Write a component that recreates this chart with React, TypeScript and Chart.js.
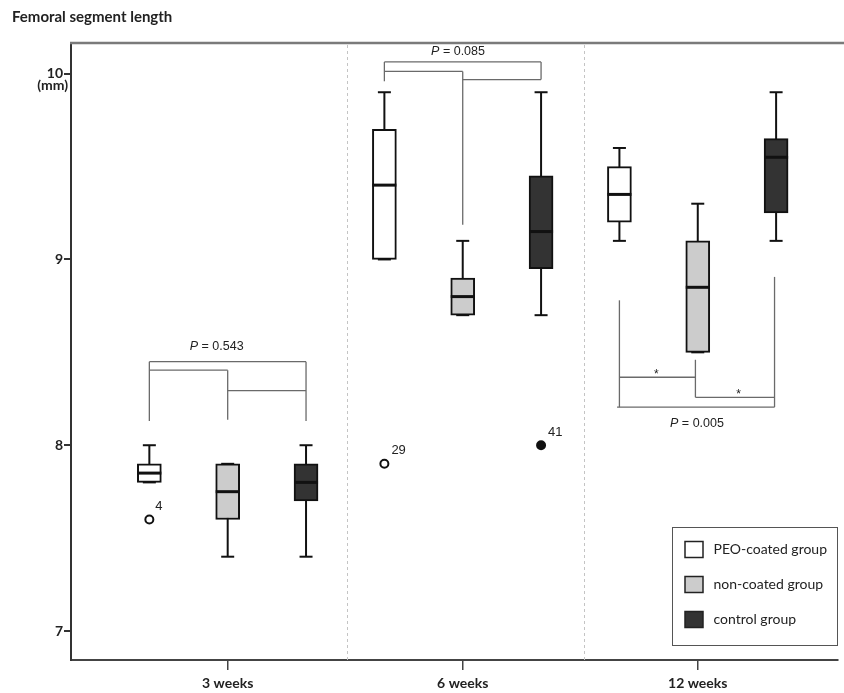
import React, { useEffect, useRef } from 'react';
import { Chart, registerables } from 'chart.js';

Chart.register(...registerables);

// ---------- data ----------
const categories = ['3 weeks', '6 weeks', '12 weeks'];
const groupNames = ['PEO-coated group', 'non-coated group', 'control group'];
const groupFills = ['#ffffff', '#cccccc', '#333333'];

// per group, per category (3w, 6w, 12w)
const peoMin = [7.8, 9.0, 9.1];
const peoQ1 = [7.8, 9.0, 9.2];
const peoMed = [7.85, 9.4, 9.35];
const peoQ3 = [7.9, 9.7, 9.5];
const peoMax = [8.0, 9.9, 9.6];

const nonMin = [7.4, 8.7, 8.5];
const nonQ1 = [7.6, 8.7, 8.5];
const nonMed = [7.75, 8.8, 8.85];
const nonQ3 = [7.9, 8.9, 9.1];
const nonMax = [7.9, 9.1, 9.3];

const ctrlMin = [7.4, 8.7, 9.1];
const ctrlQ1 = [7.7, 8.95, 9.25];
const ctrlMed = [7.8, 9.15, 9.55];
const ctrlQ3 = [7.9, 9.45, 9.65];
const ctrlMax = [8.0, 9.9, 9.9];

// outliers
const outlierCat = [0, 1, 1];
const outlierGroup = [0, 0, 2];
const outlierValue = [7.6, 7.9, 8.0];
const outlierLabel = ['4', '29', '41'];

// y ticks
const yTicks = [7, 8, 9, 10];

// comparison brackets, as [x1, y1, x2, y2] in axis units
const bracketSegments: number[][] = [
  [1, 8.45, 3, 8.45], [1, 8.45, 1, 8.131], [3, 8.45, 3, 8.131],
  [1, 8.404, 2, 8.404], [2, 8.404, 2, 8.137], [2, 8.294, 3, 8.294],
  [4, 10.063, 6, 10.063], [4, 10.063, 4, 9.959], [6, 10.063, 6, 9.968],
  [4, 10.012, 5, 10.012], [5, 10.012, 5, 9.187], [5, 9.968, 6, 9.968],
  [7, 8.78, 7, 8.205], [7.97, 8.46, 7.97, 8.258], [8.98, 8.906, 8.98, 8.205],
  [7, 8.366, 7.97, 8.366], [7.97, 8.258, 8.98, 8.258], [6.97, 8.205, 8.98, 8.205],
];
const pLabelX = [1.86, 4.94, 7.99];
const pLabelY = [8.531, 10.117, 8.119];
const pLabelText = ['0.543', '0.085', '0.005'];
const starX = [7.47, 8.52];
const starY = [8.40, 8.294];

const separators = [3.52, 6.55];

// ---------- derived ----------
const mins = [peoMin, nonMin, ctrlMin];
const q1s = [peoQ1, nonQ1, ctrlQ1];
const meds = [peoMed, nonMed, ctrlMed];
const q3s = [peoQ3, nonQ3, ctrlQ3];
const maxs = [peoMax, nonMax, ctrlMax];
const posOf = (c: number, g: number) => c * 3 + g + 1;

const BOX_W = 24;
const SANS = '"Liberation Sans", Arial, sans-serif';
const CAL = 'Lato, "Open Sans", sans-serif';

const extrasPlugin = {
  id: 'boxExtras',
  beforeDatasetsDraw(chart: any) {
    const { ctx, chartArea, scales } = chart;
    const x = scales.x, y = scales.y;
    ctx.save();
    // dashed separators
    ctx.strokeStyle = '#c4c4c4';
    ctx.lineWidth = 1;
    ctx.setLineDash([3, 3]);
    separators.forEach((v) => {
      const px = Math.round(x.getPixelForValue(v)) + 0.5;
      ctx.beginPath();
      ctx.moveTo(px, chartArea.top + 2);
      ctx.lineTo(px, chartArea.bottom);
      ctx.stroke();
    });
    ctx.setLineDash([]);
    // top border
    ctx.strokeStyle = '#7a7a7a';
    ctx.lineWidth = 2.5;
    ctx.beginPath();
    ctx.moveTo(chartArea.left - 1, chartArea.top);
    ctx.lineTo(chart.width, chartArea.top);
    ctx.stroke();
    // whiskers
    ctx.strokeStyle = '#111';
    ctx.lineWidth = 2;
    for (let g = 0; g < 3; g++) {
      for (let c = 0; c < 3; c++) {
        const px = x.getPixelForValue(posOf(c, g));
        ctx.beginPath();
        ctx.moveTo(px, y.getPixelForValue(maxs[g][c]));
        ctx.lineTo(px, y.getPixelForValue(mins[g][c]));
        ctx.stroke();
      }
    }
    ctx.restore();
  },
  afterDatasetsDraw(chart: any) {
    const { ctx, chartArea, scales } = chart;
    const x = scales.x, y = scales.y;
    ctx.save();
    // caps and medians
    ctx.strokeStyle = '#111';
    for (let g = 0; g < 3; g++) {
      for (let c = 0; c < 3; c++) {
        const px = x.getPixelForValue(posOf(c, g));
        ctx.lineWidth = 2;
        [maxs[g][c], mins[g][c]].forEach((v) => {
          const py = y.getPixelForValue(v);
          ctx.beginPath();
          ctx.moveTo(px - BOX_W / 4 - 0.5, py);
          ctx.lineTo(px + BOX_W / 4 + 0.5, py);
          ctx.stroke();
        });
        ctx.lineWidth = 3;
        const pm = y.getPixelForValue(meds[g][c]);
        ctx.beginPath();
        ctx.moveTo(px - BOX_W / 2, pm);
        ctx.lineTo(px + BOX_W / 2, pm);
        ctx.stroke();
      }
    }
    // outlier labels
    ctx.fillStyle = '#222';
    ctx.font = `13px ${SANS}`;
    ctx.textAlign = 'left';
    ctx.textBaseline = 'middle';
    outlierValue.forEach((v, i) => {
      const px = x.getPixelForValue(posOf(outlierCat[i], outlierGroup[i]));
      const py = y.getPixelForValue(v);
      const dx = outlierLabel[i].length > 1 ? 7 : 6;
      ctx.fillText(outlierLabel[i], px + dx, py - 13);
    });
    // brackets
    ctx.strokeStyle = '#6a6a6a';
    ctx.lineWidth = 1.3;
    bracketSegments.forEach(([x1, y1, x2, y2]) => {
      ctx.beginPath();
      ctx.moveTo(x.getPixelForValue(x1), y.getPixelForValue(y1));
      ctx.lineTo(x.getPixelForValue(x2), y.getPixelForValue(y2));
      ctx.stroke();
    });
    // p labels
    ctx.fillStyle = '#222';
    ctx.textBaseline = 'middle';
    pLabelText.forEach((t, i) => {
      const cx = x.getPixelForValue(pLabelX[i]);
      const cy = y.getPixelForValue(pLabelY[i]);
      ctx.font = `italic 12.5px ${SANS}`;
      const wP = ctx.measureText('P').width;
      ctx.font = `12.5px ${SANS}`;
      const rest = ' = ' + t;
      const wR = ctx.measureText(rest).width;
      const left = cx - (wP + wR) / 2;
      ctx.textAlign = 'left';
      ctx.font = `italic 12.5px ${SANS}`;
      ctx.fillText('P', left, cy);
      ctx.font = `12.5px ${SANS}`;
      ctx.fillText(rest, left + wP, cy);
    });
    // stars
    ctx.font = `12px ${SANS}`;
    ctx.textAlign = 'center';
    ctx.textBaseline = 'alphabetic';
    starX.forEach((sx, i) => {
      ctx.fillText('*', x.getPixelForValue(sx), y.getPixelForValue(starY[i]) + 7);
    });
    // (mm) under the 10 tick
    ctx.font = `bold 14px ${CAL}`;
    ctx.textAlign = 'right';
    ctx.textBaseline = 'middle';
    ctx.fillStyle = '#222';
    ctx.fillText('(mm)', chartArea.left - 3, y.getPixelForValue(10) + 12);
    // legend
    const lw = 165, lh = 118;
    const lx = chartArea.right - 165.5, ly = chartArea.bottom - 132.5;
    ctx.strokeStyle = '#555';
    ctx.lineWidth = 1;
    ctx.fillStyle = '#fff';
    ctx.fillRect(lx, ly, lw, lh);
    ctx.strokeRect(lx, ly, lw, lh);
    groupNames.forEach((name, i) => {
      const cy = ly + 22 + i * 35;
      ctx.fillStyle = groupFills[i];
      ctx.fillRect(lx + 12.5, cy - 8, 18, 16);
      ctx.strokeStyle = '#222';
      ctx.lineWidth = 1.5;
      ctx.strokeRect(lx + 12.5, cy - 8, 18, 16);
      ctx.fillStyle = '#222';
      ctx.font = `14px ${CAL}`;
      ctx.textAlign = 'left';
      ctx.textBaseline = 'middle';
      ctx.fillText(name, lx + 41, cy);
    });
    // title
    ctx.fillStyle = '#222';
    ctx.font = `bold 15px ${CAL}`;
    ctx.textAlign = 'left';
    ctx.textBaseline = 'middle';
    ctx.fillText('Femoral segment length', 12, 17);
    ctx.restore();
  },
};

export default function App() {
  const ref = useRef<HTMLCanvasElement>(null);
  useEffect(() => {
    if (!ref.current) return;
    const boxDatasets = groupNames.map((name, g) => ({
      type: 'bar' as const,
      label: name,
      data: categories.map((_, c) => ({ x: posOf(c, g), y: [q1s[g][c], q3s[g][c]] })),
      backgroundColor: groupFills[g],
      borderColor: '#111',
      borderWidth: 2,
      borderSkipped: false,
      barThickness: BOX_W,
      grouped: false,
    }));
    const outlierDataset = {
      type: 'scatter' as const,
      label: 'outliers',
      data: outlierValue.map((v, i) => ({ x: posOf(outlierCat[i], outlierGroup[i]), y: v })),
      pointRadius: 4,
      pointBorderWidth: 2,
      pointBorderColor: '#111',
      pointBackgroundColor: outlierGroup.map((g) => (g === 2 ? '#111' : '#fff')),
    };
    const chart = new Chart(ref.current, {
      type: 'bar',
      data: { datasets: [...boxDatasets, outlierDataset] as any },
      options: {
        animation: false,
        responsive: true,
        maintainAspectRatio: false,
        layout: { padding: { top: 43, left: 0, right: 0, bottom: 0 } },
        plugins: { legend: { display: false }, tooltip: { enabled: false } },
        scales: {
          x: {
            type: 'linear',
            min: 0,
            max: 9.79,
            offset: false,
            afterBuildTicks: (s: any) => {
              s.ticks = categories.map((_, c) => ({ value: posOf(c, 1) }));
            },
            afterFit: (s: any) => {
              s.height = 33;
            },
            ticks: {
              autoSkip: false,
              maxRotation: 0,
              padding: 5,
              color: '#222',
              font: { family: CAL, size: 14, weight: 'bold' },
              callback: (v: any) => categories[Math.round((Number(v) - 2) / 3)] ?? '',
            },
            grid: { offset: false, drawOnChartArea: false, drawTicks: true, tickLength: 10, color: '#444', lineWidth: 1.5 },
            border: { color: '#444', width: 2 },
          },
          y: {
            type: 'linear',
            min: 6.844,
            max: 10.165,
            afterBuildTicks: (s: any) => {
              s.ticks = yTicks.map((v) => ({ value: v }));
            },
            afterFit: (s: any) => {
              s.width = 71;
            },
            ticks: {
              padding: 1,
              color: '#222',
              font: { family: CAL, size: 14, weight: 'bold' },
              callback: (v: any) => String(v),
            },
            grid: { drawOnChartArea: false, drawTicks: true, tickLength: 7, color: '#333', lineWidth: 2 },
            border: { color: '#333', width: 2 },
          },
        },
      } as any,
      plugins: [extrasPlugin],
    });
    return () => chart.destroy();
  }, []);
  return (
    <div style={{ position: 'absolute', left: 0, top: 0, width: 844, height: 693, background: '#fff' }}>
      <canvas ref={ref} />
    </div>
  );
}
